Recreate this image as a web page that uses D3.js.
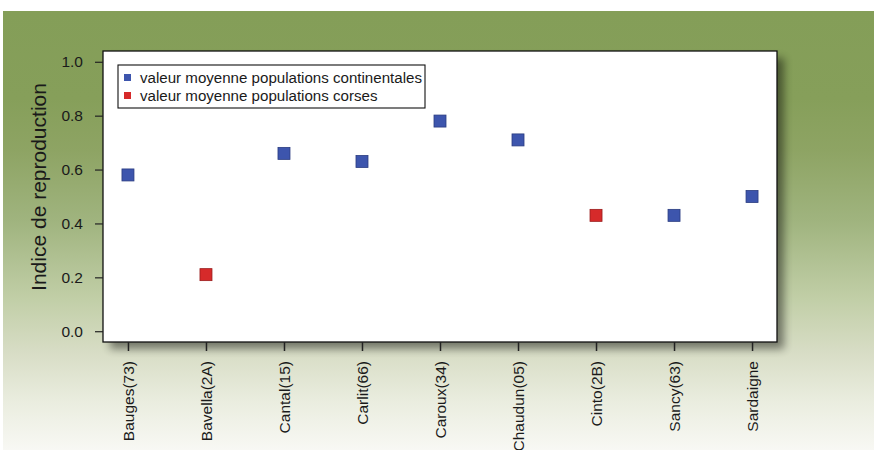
<!DOCTYPE html>
<html>
<head>
<meta charset="utf-8">
<script src="https://cdn.jsdelivr.net/npm/d3@7"></script>
<style>
  html, body { margin: 0; padding: 0; background: #ffffff; }
  svg { display: block; }
  text { font-family: "Liberation Sans", Arial, sans-serif; fill: #1a1a1a; }
</style>
</head>
<body>
<svg id="chart" width="874" height="450"></svg>
<script>
// ---- data ----
const categories = ["Bauges(73)", "Bavella(2A)", "Cantal(15)", "Carlit(66)", "Caroux(34)", "Chaudun(05)", "Cinto(2B)", "Sancy(63)", "Sardaigne"];
const values = [0.58, 0.21, 0.66, 0.63, 0.78, 0.71, 0.43, 0.43, 0.50];
const groups = ["continental", "corse", "continental", "continental", "continental", "continental", "corse", "continental", "continental"];
const yTicks = [0.0, 0.2, 0.4, 0.6, 0.8, 1.0];
const legendLabels = ["valeur moyenne populations continentales", "valeur moyenne populations corses"];
const legendKeys = ["continental", "corse"];
const yTitle = "Indice de reproduction";

(function () {
const colors = { continental: "#3d55ad", corse: "#d62a2a" };
const strokes = { continental: "#2a3c80", corse: "#9a1c1c" };

const svg = d3.select("#chart");
const W = 874, H = 450;

// background gradient
const defs = svg.append("defs");
const grad = defs.append("linearGradient").attr("id", "bg").attr("x1", 0).attr("y1", 0).attr("x2", 0).attr("y2", 1);
[[0, "#849e58"], [0.2, "#869f5a"], [0.32, "#8ea464"], [0.48, "#a0b47f"], [0.66, "#c2cfa8"], [0.78, "#d8ddc6"], [0.89, "#eaeddf"], [1, "#f8f8f4"]]
  .forEach(([o, c]) => grad.append("stop").attr("offset", o).attr("stop-color", c));
const shadow = defs.append("filter").attr("id", "shadow").attr("x", "-10%").attr("y", "-10%").attr("width", "120%").attr("height", "120%");
shadow.append("feGaussianBlur").attr("stdDeviation", 4);

svg.append("rect").attr("x", 3).attr("y", 11).attr("width", W - 3).attr("height", H - 11).attr("fill", "url(#bg)");

// plot area
const pL = 103, pR = 777, pT = 51, pB = 342;
const x = d3.scaleLinear().domain([0.68, 9.32]).range([pL, pR]);
const y = d3.scaleLinear().domain([-0.04, 1.04]).range([pB, pT]);

// shadow
svg.append("rect").attr("x", pL + 7).attr("y", pT + 7).attr("width", pR - pL).attr("height", pB - pT)
  .attr("fill", "#000").attr("opacity", 0.45).attr("filter", "url(#shadow)");
svg.append("rect").attr("x", pL).attr("y", pT).attr("width", pR - pL).attr("height", pB - pT)
  .attr("fill", "#ffffff").attr("stroke", "#111").attr("stroke-width", 1.3);

// y axis
const yAxis = d3.axisLeft(y).tickValues(yTicks).tickFormat(d3.format(".1f")).tickSize(8).tickPadding(12);
const gy = svg.append("g").attr("transform", `translate(${pL},0)`).call(yAxis);
gy.select(".domain").remove();
gy.selectAll("line").attr("stroke", "#222").attr("stroke-width", 1.2);
gy.selectAll("text").style("font-size", "15.5px").attr("fill", "#222");

// x axis
const xAxis = d3.axisBottom(x).tickValues(d3.range(1, categories.length + 1)).tickFormat(i => categories[i - 1]).tickSize(9).tickPadding(0);
const gx = svg.append("g").attr("transform", `translate(0,${pB})`).call(xAxis);
gx.select(".domain").remove();
gx.selectAll("line").attr("stroke", "#222").attr("stroke-width", 1.5);
gx.selectAll("text")
  .style("font-size", "15.5px").attr("fill", "#222")
  .attr("text-anchor", "end")
  .attr("transform", "rotate(-90)")
  .attr("x", -19).attr("y", 0).attr("dy", "0.35em");

// y title
svg.append("text").attr("transform", `translate(46,187) rotate(-90)`)
  .attr("text-anchor", "middle").style("font-size", "21px").attr("fill", "#222").text(yTitle);

// points
const pts = values.map((v, i) => ({ x: i + 1, v, g: groups[i] }));
svg.append("g").selectAll("rect").data(pts).join("rect")
  .attr("x", d => x(d.x) - 6).attr("y", d => y(d.v) - 6)
  .attr("width", 12).attr("height", 12)
  .attr("fill", d => colors[d.g]).attr("stroke", d => strokes[d.g]).attr("stroke-width", 0.8);

// legend
const lg = svg.append("g");
lg.append("rect").attr("x", 118).attr("y", 65).attr("width", 307).attr("height", 43)
  .attr("fill", "#fff").attr("stroke", "#111").attr("stroke-width", 1.1);
legendKeys.forEach((k, i) => {
  const cy = 77.5 + i * 18;
  lg.append("rect").attr("x", 124).attr("y", cy - 3.5).attr("width", 7).attr("height", 7).attr("fill", colors[k]);
  lg.append("text").attr("x", 140).attr("y", cy).attr("dy", "0.35em")
    .style("font-size", "15.1px").attr("fill", "#111").text(legendLabels[i]);
});
})();
</script>
</body>
</html>
